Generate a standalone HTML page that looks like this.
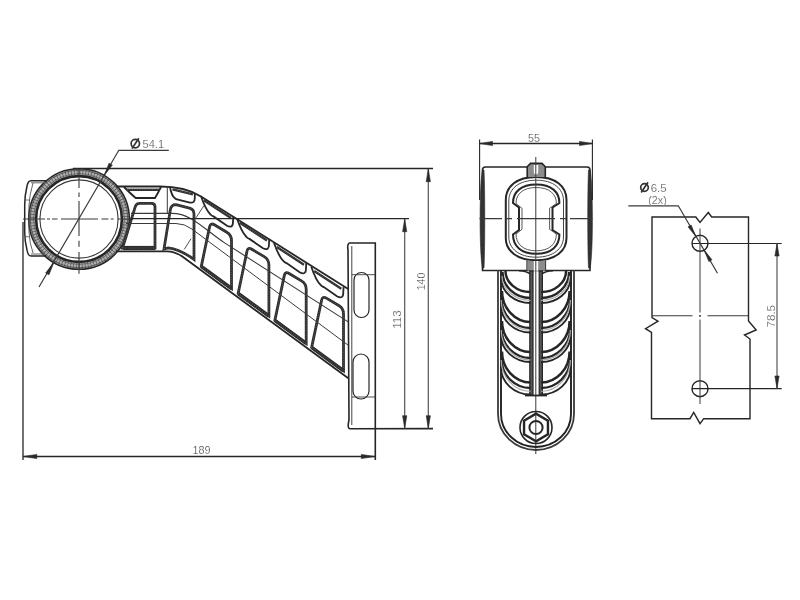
<!DOCTYPE html>
<html><head><meta charset="utf-8"><style>
html,body{margin:0;padding:0;background:#fff;}
svg{display:block;}
text{font-family:"Liberation Sans",sans-serif;}
svg{will-change:transform;}
</style></head><body>
<svg width="800" height="600" viewBox="0 0 800 600">
<rect width="800" height="600" fill="#fff"/>
<circle cx="79" cy="219" r="46.7" stroke="#b0b0b0" stroke-width="6.0" fill="none" />
<circle cx="79" cy="219" r="46.7" stroke="#555" stroke-width="6.0" fill="none" stroke-dasharray="0.7 2.2"/>
<circle cx="79" cy="219" r="45.4" stroke="#555" stroke-width="0.7" fill="none" />
<circle cx="79" cy="219" r="48.8" stroke="#444" stroke-width="0.8" fill="none" />
<circle cx="79" cy="219" r="50.3" stroke="#262626" stroke-width="1.6" fill="none" />
<circle cx="79" cy="219" r="42.9" stroke="#262626" stroke-width="2.6" fill="none" />
<circle cx="79" cy="219" r="39.1" stroke="#3a3a3a" stroke-width="1.1" fill="none" />
<path d="M47,180.8 L31,180.8 Q28,181 27,186 Q24.7,196 24.7,205 L24.7,232 Q24.7,241 27,250 Q28,256 31,256 L46,256" stroke="#262626" stroke-width="1.5" fill="none" />
<path d="M31,182.8 L46,182.8 M31,254 L45,254" stroke="#666" stroke-width="1.0" fill="none" />
<path d="M33,183 Q29.5,195 29,205 L29,232 Q29.5,243 33,253" stroke="#555" stroke-width="0.9" fill="none" />
<line x1="24.7" y1="200" x2="30" y2="200" stroke="#555" stroke-width="0.8" />
<line x1="24.7" y1="236.7" x2="30" y2="236.7" stroke="#555" stroke-width="0.8" />
<path d="M23,219 L45,219 M47,219 L50,219 M52,219 L57.5,219 M61,219 L98,219 M101.5,219 L108.5,219 M110.7,219 L113.7,219 M117.5,219 L131,219" stroke="#3a3a3a" stroke-width="1.1" fill="none" />
<path d="M79,168 L79,188 M79,192.5 L79,197 M79,201 L79,236 M79,240.8 L79,246.7 M79,252 L79,273.8" stroke="#3a3a3a" stroke-width="1.1" fill="none" />
<path d="M168.8,150.3 L118.8,150.3 L39,287" stroke="#3a3a3a" stroke-width="1.2" fill="none" />
<path d="M104.00,175.70 L109.05,163.15 L112.35,165.05 Z" fill="#2a2a2a" stroke="#2a2a2a" stroke-width="0.6"/>
<path d="M54.00,262.30 L48.95,274.85 L45.65,272.95 Z" fill="#2a2a2a" stroke="#2a2a2a" stroke-width="0.6"/>
<circle cx="135.3" cy="143.6" r="4.2" stroke="#333" stroke-width="1.7" fill="none" />
<line x1="132.0" y1="148.6" x2="138.8" y2="138.29999999999998" stroke="#333" stroke-width="1.7" />
<text x="153.3" y="147.6" font-size="11.2" text-anchor="middle" fill="#484848" stroke="#fff" stroke-width="0.2" textLength="21.5" lengthAdjust="spacingAndGlyphs" >54.1</text>
<path d="M116,186.5 L160,186.5 Q185.1,186.5 201,196.5 L348.2,289" stroke="#262626" stroke-width="1.8" fill="none" />
<path d="M116,251.3 L167,251.3 Q175.3,251.3 183,257 L348.3,378.3" stroke="#262626" stroke-width="1.8" fill="none" />
<path d="M124,187 Q131,194 135.7,198 L155,198 Q158,193 161,187" stroke="#262626" stroke-width="1.8" fill="none" />
<path d="M127,189.8 L159,189.8" stroke="#2e2e2e" stroke-width="2.4" fill="none" />
<path d="M127,189.8 L159,189.8" stroke="#8a8a8a" stroke-width="0.6" fill="none" stroke-dasharray="0.8 1.7"/>
<line x1="167.3" y1="186.5" x2="167.3" y2="213" stroke="#3a3a3a" stroke-width="1.0" />
<path d="M170,187 Q171.5,195.5 174.5,197.8 Q176,199.3 178,199.7 L190,202.6 Q194.8,203.4 194.8,198 L194.8,193" stroke="#262626" stroke-width="1.8" fill="none" />
<path d="M172.5,189.3 L193,194.3" stroke="#2e2e2e" stroke-width="2.4" fill="none" />
<path d="M172.5,189.3 L193,194.3" stroke="#8a8a8a" stroke-width="0.6" fill="none" stroke-dasharray="0.8 1.7"/>
<path d="M201,196 C203,202 206,210 210.5,214.5 Q211.5,215.6 213.5,216.4 L227,225.8 Q233.3,229 233,221 L233.3,216.4" stroke="#262626" stroke-width="1.8" fill="none" />
<path d="M203.8,200.3 L231,218" stroke="#2e2e2e" stroke-width="2.4" fill="none" />
<path d="M203.8,200.3 L231,218" stroke="#8a8a8a" stroke-width="0.6" fill="none" stroke-dasharray="0.8 1.7"/>
<path d="M237,218.5 C239,224.5 242,232.5 246.5,237.0 Q247.5,238.1 249.5,238.9 L263,248.3 Q269.3,251.5 269,243.5 L269.3,238.9" stroke="#262626" stroke-width="1.8" fill="none" />
<path d="M239.8,222.8 L267,240.5" stroke="#2e2e2e" stroke-width="2.4" fill="none" />
<path d="M239.8,222.8 L267,240.5" stroke="#8a8a8a" stroke-width="0.6" fill="none" stroke-dasharray="0.8 1.7"/>
<path d="M274,242.7 C276,248.7 279,256.7 283.5,261.2 Q284.5,262.3 286.5,263.09999999999997 L300,272.5 Q306.3,275.7 306,267.7 L306.3,263.09999999999997" stroke="#262626" stroke-width="1.8" fill="none" />
<path d="M276.8,247.0 L304,264.7" stroke="#2e2e2e" stroke-width="2.4" fill="none" />
<path d="M276.8,247.0 L304,264.7" stroke="#8a8a8a" stroke-width="0.6" fill="none" stroke-dasharray="0.8 1.7"/>
<path d="M311.3,266.7 C313.3,272.7 316.3,280.7 320.8,285.2 Q321.8,286.3 323.8,287.09999999999997 L337.3,296.5 Q343.6,299.7 343.3,291.7 L343.6,287.09999999999997" stroke="#262626" stroke-width="1.8" fill="none" />
<path d="M314.1,271.0 L341.3,288.7" stroke="#2e2e2e" stroke-width="2.4" fill="none" />
<path d="M314.1,271.0 L341.3,288.7" stroke="#8a8a8a" stroke-width="0.6" fill="none" stroke-dasharray="0.8 1.7"/>
<path d="M122.50,248.00 L135.27,206.64 Q136.30,203.30 139.80,203.30 L151.50,203.30 Q155.00,203.30 155.00,206.80 L155.00,248.00 Z" stroke="#2e2e2e" stroke-width="2.8" fill="none" />
<path d="M122.50,248.00 L135.27,206.64 Q136.30,203.30 139.80,203.30 L151.50,203.30 Q155.00,203.30 155.00,206.80 L155.00,248.00 Z" stroke="#8a8a8a" stroke-width="0.6" fill="none" stroke-dasharray="0.8 1.7"/>
<path d="M123,248 L155,248" stroke="#2e2e2e" stroke-width="4.2" fill="none" />
<path d="M123,248 L155,248" stroke="#8a8a8a" stroke-width="0.6" fill="none" stroke-dasharray="0.8 1.7"/>
<path d="M164,249 L170.4,209.4 Q171.5,204.5 176,204.7 L189.5,208.2 Q194,209.5 194,214 L194,259.5 Q180,249 168,247.8 Z" stroke="#2e2e2e" stroke-width="2.8" fill="none" />
<path d="M164,249 L170.4,209.4 Q171.5,204.5 176,204.7 L189.5,208.2 Q194,209.5 194,214 L194,259.5 Q180,249 168,247.8 Z" stroke="#8a8a8a" stroke-width="0.6" fill="none" stroke-dasharray="0.8 1.7"/>
<path d="M201.28,266.39 L209.58,226.90 Q210.50,222.50 214.37,224.80 L226.77,232.19 Q231.50,235.00 231.50,240.50 L231.50,288.57 Z" stroke="#2e2e2e" stroke-width="2.8" fill="none" />
<path d="M201.28,266.39 L209.58,226.90 Q210.50,222.50 214.37,224.80 L226.77,232.19 Q231.50,235.00 231.50,240.50 L231.50,288.57 Z" stroke="#8a8a8a" stroke-width="0.6" fill="none" stroke-dasharray="0.8 1.7"/>
<path d="M201.28,266.39 L231.50,288.57" stroke="#2e2e2e" stroke-width="3.6" fill="none" />
<path d="M201.28,266.39 L231.50,288.57" stroke="#8a8a8a" stroke-width="0.6" fill="none" stroke-dasharray="0.8 1.7"/>
<path d="M238.13,293.43 L246.98,251.30 Q247.90,246.90 251.77,249.20 L264.17,256.59 Q268.90,259.40 268.90,264.90 L268.90,316.02 Z" stroke="#2e2e2e" stroke-width="2.8" fill="none" />
<path d="M238.13,293.43 L246.98,251.30 Q247.90,246.90 251.77,249.20 L264.17,256.59 Q268.90,259.40 268.90,264.90 L268.90,316.02 Z" stroke="#8a8a8a" stroke-width="0.6" fill="none" stroke-dasharray="0.8 1.7"/>
<path d="M238.13,293.43 L268.90,316.02" stroke="#2e2e2e" stroke-width="3.6" fill="none" />
<path d="M238.13,293.43 L268.90,316.02" stroke="#8a8a8a" stroke-width="0.6" fill="none" stroke-dasharray="0.8 1.7"/>
<path d="M274.87,320.40 L284.28,275.60 Q285.20,271.20 289.07,273.50 L301.47,280.89 Q306.20,283.70 306.20,289.20 L306.20,343.40 Z" stroke="#2e2e2e" stroke-width="2.8" fill="none" />
<path d="M274.87,320.40 L284.28,275.60 Q285.20,271.20 289.07,273.50 L301.47,280.89 Q306.20,283.70 306.20,289.20 L306.20,343.40 Z" stroke="#8a8a8a" stroke-width="0.6" fill="none" stroke-dasharray="0.8 1.7"/>
<path d="M274.87,320.40 L306.20,343.40" stroke="#2e2e2e" stroke-width="3.6" fill="none" />
<path d="M274.87,320.40 L306.20,343.40" stroke="#8a8a8a" stroke-width="0.6" fill="none" stroke-dasharray="0.8 1.7"/>
<path d="M311.66,347.41 L321.58,300.20 Q322.50,295.80 326.37,298.10 L338.77,305.49 Q343.50,308.30 343.50,313.80 L343.50,370.78 Z" stroke="#2e2e2e" stroke-width="2.8" fill="none" />
<path d="M311.66,347.41 L321.58,300.20 Q322.50,295.80 326.37,298.10 L338.77,305.49 Q343.50,308.30 343.50,313.80 L343.50,370.78 Z" stroke="#8a8a8a" stroke-width="0.6" fill="none" stroke-dasharray="0.8 1.7"/>
<path d="M311.66,347.41 L343.50,370.78" stroke="#2e2e2e" stroke-width="3.6" fill="none" />
<path d="M311.66,347.41 L343.50,370.78" stroke="#8a8a8a" stroke-width="0.6" fill="none" stroke-dasharray="0.8 1.7"/>
<path d="M131,213.4 L172,213.4 C192,213.4 205,230.3 225,243.1 L348.2,321.9" stroke="#3a3a3a" stroke-width="1.1" fill="none" />
<path d="M126,223.5 L176,223.5 Q184.5,223.5 192,229.1 L348.2,345.2" stroke="#3a3a3a" stroke-width="1.0" fill="none" />
<line x1="184.3" y1="249.3" x2="191" y2="238.7" stroke="#3a3a3a" stroke-width="0.9" />
<line x1="196" y1="217.8" x2="204" y2="205.5" stroke="#3a3a3a" stroke-width="0.9" />
<path d="M349,243 L375.3,243 L375.3,460" stroke="#262626" stroke-width="1.6" fill="none" />
<path d="M349,243 Q347,245 348,250 L349,420 Q347,428.7 350,428.7 L433,428.6" stroke="#262626" stroke-width="1.6" fill="none" />
<line x1="351.8" y1="246" x2="351.8" y2="425" stroke="#444" stroke-width="1.0" />
<path d="M354,280 A7.5,7.5 0 0 1 369,280 L369,310 A7.5,7.5 0 0 1 354,310 Z" stroke="#262626" stroke-width="1.2" fill="none" />
<path d="M353,362 A8,8 0 0 1 369,362 L369,391 A8,8 0 0 1 353,391 Z" stroke="#262626" stroke-width="1.2" fill="none" />
<line x1="352" y1="274.7" x2="375.3" y2="274.7" stroke="#3a3a3a" stroke-width="0.9" />
<line x1="352" y1="397" x2="375.3" y2="397" stroke="#3a3a3a" stroke-width="0.9" />
<line x1="73" y1="168.5" x2="433" y2="168.5" stroke="#262626" stroke-width="1.3" />
<line x1="131" y1="218.6" x2="409" y2="218.6" stroke="#262626" stroke-width="1.3" />
<line x1="428.3" y1="168.7" x2="428.3" y2="428.7" stroke="#555" stroke-width="1.2" />
<path d="M428.30,168.90 L430.40,181.70 L426.20,181.70 Z" fill="#2a2a2a" stroke="#2a2a2a" stroke-width="0.6"/>
<path d="M428.30,428.50 L426.20,415.70 L430.40,415.70 Z" fill="#2a2a2a" stroke="#2a2a2a" stroke-width="0.6"/>
<line x1="404.7" y1="218.7" x2="404.7" y2="428.7" stroke="#555" stroke-width="1.2" />
<path d="M404.70,218.90 L406.80,231.70 L402.60,231.70 Z" fill="#2a2a2a" stroke="#2a2a2a" stroke-width="0.6"/>
<path d="M404.70,428.50 L402.60,415.70 L406.80,415.70 Z" fill="#2a2a2a" stroke="#2a2a2a" stroke-width="0.6"/>
<text x="424.6" y="281.5" font-size="11" text-anchor="middle" fill="#484848" stroke="#fff" stroke-width="0.2" transform="rotate(-90 424.6 281.5)" textLength="17.7" lengthAdjust="spacingAndGlyphs" >140</text>
<text x="401.3" y="319.5" font-size="11" text-anchor="middle" fill="#484848" stroke="#fff" stroke-width="0.2" transform="rotate(-90 401.3 319.5)" textLength="18.3" lengthAdjust="spacingAndGlyphs" >113</text>
<line x1="23" y1="222" x2="23" y2="460" stroke="#262626" stroke-width="1.3" />
<line x1="23" y1="456.5" x2="375" y2="456.5" stroke="#262626" stroke-width="1.3" />
<path d="M23.30,456.50 L36.80,454.40 L36.80,458.60 Z" fill="#2a2a2a" stroke="#2a2a2a" stroke-width="0.6"/>
<path d="M374.80,456.50 L361.30,458.60 L361.30,454.40 Z" fill="#2a2a2a" stroke="#2a2a2a" stroke-width="0.6"/>
<text x="201.5" y="454" font-size="11.2" text-anchor="middle" fill="#484848" stroke="#fff" stroke-width="0.2" textLength="18" lengthAdjust="spacingAndGlyphs" >189</text>
<line x1="479.6" y1="139.5" x2="479.6" y2="200" stroke="#262626" stroke-width="1.1" />
<line x1="592.4" y1="139.5" x2="592.4" y2="200" stroke="#262626" stroke-width="1.1" />
<line x1="479.7" y1="143.5" x2="592.5" y2="143.5" stroke="#262626" stroke-width="1.3" />
<path d="M479.90,143.50 L492.50,141.40 L492.50,145.60 Z" fill="#2a2a2a" stroke="#2a2a2a" stroke-width="0.6"/>
<path d="M592.30,143.50 L579.50,145.60 L579.50,141.40 Z" fill="#2a2a2a" stroke="#2a2a2a" stroke-width="0.6"/>
<text x="534" y="141.5" font-size="11.2" text-anchor="middle" fill="#484848" stroke="#fff" stroke-width="0.2" textLength="12" lengthAdjust="spacingAndGlyphs" >55</text>
<path d="M482.5,270.5 L482.5,170 Q482.5,167 485.5,167 L587,167 Q590,167 590,170 L590,270.5 Z" stroke="#262626" stroke-width="1.6" fill="none" />
<path d="M482.5,170 C479.3,182 479.3,256 482.5,268 L484,268 C485,250 485,188 484,170 Z" stroke="#262626" stroke-width="0.6" fill="#333" />
<path d="M590,170 C593.2,182 593.2,256 590,268 L588.5,268 C587.5,250 587.5,188 588.5,170 Z" stroke="#262626" stroke-width="0.6" fill="#333" />
<path d="M505.8,200 C505.8,186 517,177 536.2,177 C555.4,177 566.5,186 566.5,200 L566.5,238 C566.5,251 555.4,260.3 536.2,260.3 C517,260.3 505.8,251 505.8,238 Z" stroke="#262626" stroke-width="2.0" fill="none" />
<path d="M508.8,201 C508.8,188.5 519,180.2 536.2,180.2 C553.4,180.2 563.5,188.5 563.5,201 L563.5,237 C563.5,248.5 553.4,257.2 536.2,257.2 C519,257.2 508.8,248.5 508.8,237 Z" stroke="#444" stroke-width="1.0" fill="none" />
<path d="M513,203 C513,192 521,184.5 536.2,184.5 C551.4,184.5 559.4,192 559.4,203 L552.5,207.5 L552.5,230 L559.4,234.5 C559.4,246 551.4,253.8 536.2,253.8 C521,253.8 513,246 513,234.5 L519,230 L519,207.5 Z" stroke="#262626" stroke-width="2.0" fill="none" />
<path d="M516,203.5 C516,194 523,187.5 536.2,187.5 C549.4,187.5 556.4,194 556.4,203.5 L549.6,208.3 L549.6,229.3 L556.4,234 C556.4,244 549.4,250.8 536.2,250.8 C523,250.8 516,244 516,234 L522,229.3 L522,208.3 Z" stroke="#444" stroke-width="0.9" fill="none" />
<path d="M527.2,177 L527.2,166.8 L530.5,163.4 L542,163.4 L545.3,166.8 L545.3,177" stroke="#262626" stroke-width="1.6" fill="#8c8c8c" />
<path d="M533.8,165 L533.8,172 Q533.8,174.5 536,174.5 Q538.2,174.5 538.2,172 L538.2,165 Z" stroke="#262626" stroke-width="0" fill="#fff" />
<path d="M527.2,260.5 L527.2,270.7 M545.3,260.5 L545.3,270.7" stroke="#262626" stroke-width="1.6" fill="none" />
<rect x="527.2" y="261" width="18.1" height="9.7" fill="#8c8c8c"/>
<rect x="533.8" y="261" width="4.4" height="9.7" fill="#fff"/>
<path d="M519,270.7 Q527,271 531,274.5 M553,270.7 Q545,271 541,274.5" stroke="#262626" stroke-width="1.4" fill="none" />
<line x1="535.8" y1="157" x2="535.8" y2="454" stroke="#3a3a3a" stroke-width="1.0" />
<path d="M479.5,218.6 L502,218.6 M506,218.6 L512,218.6 M517,218.6 L555,218.6 M560,218.6 L566,218.6 M570,218.6 L592.5,218.6" stroke="#3a3a3a" stroke-width="1.1" fill="none" />
<path d="M498,270 L498,414 A38,36 0 0 0 574,414 L574,270" stroke="#3a3a3a" stroke-width="1.8" fill="none" />
<path d="M501,271 L501,414 A35,33 0 0 0 571,414 L571,271" stroke="#222" stroke-width="1.9" fill="none" />
<rect x="529.8" y="271" width="3.2" height="124" fill="#555" stroke="#262626" stroke-width="1.2"/>
<rect x="539.2" y="271" width="3.2" height="124" fill="#555" stroke="#262626" stroke-width="1.2"/>
<line x1="525" y1="395.5" x2="547" y2="395.5" stroke="#262626" stroke-width="1.8" />
<path d="M566.0999999999999,271 A25.0,21 0 0 1 541.0999999999999,292" stroke="#262626" stroke-width="2.5" fill="none" />
<path d="M569.0999999999999,272 A28.0,26 0 0 1 541.0999999999999,298" stroke="#262626" stroke-width="2.4" fill="none" />
<path d="M570.0999999999999,279 A29.0,24 0 0 1 541.0999999999999,303" stroke="#262626" stroke-width="1.9" fill="none" />
<path d="M569.5999999999999,276 A28.5,24.5 0 0 1 541.0999999999999,300.5" stroke="#aaa" stroke-width="1.2" fill="none" />
<path d="M505.5,271 A25.0,21 0 0 0 530.5,292" stroke="#262626" stroke-width="2.5" fill="none" />
<path d="M502.5,272 A28.0,26 0 0 0 530.5,298" stroke="#262626" stroke-width="2.4" fill="none" />
<path d="M501.5,279 A29.0,24 0 0 0 530.5,303" stroke="#262626" stroke-width="1.9" fill="none" />
<path d="M502.0,276 A28.5,24.5 0 0 0 530.5,300.5" stroke="#aaa" stroke-width="1.2" fill="none" />
<path d="M569.5999999999999,291 A28.5,31 0 0 1 541.0999999999999,322" stroke="#262626" stroke-width="2.5" fill="none" />
<path d="M570.0999999999999,299 A29.0,29 0 0 1 541.0999999999999,328" stroke="#262626" stroke-width="2.4" fill="none" />
<path d="M570.5999999999999,305.5 A29.5,27.0 0 0 1 541.0999999999999,332.5" stroke="#262626" stroke-width="1.9" fill="none" />
<path d="M570.3999999999999,300 A29.30000000000001,30.25 0 0 1 541.0999999999999,330.25" stroke="#aaa" stroke-width="1.2" fill="none" />
<path d="M502.0,291 A28.5,31 0 0 0 530.5,322" stroke="#262626" stroke-width="2.5" fill="none" />
<path d="M501.5,299 A29.0,29 0 0 0 530.5,328" stroke="#262626" stroke-width="2.4" fill="none" />
<path d="M501.0,305.5 A29.5,27.0 0 0 0 530.5,332.5" stroke="#262626" stroke-width="1.9" fill="none" />
<path d="M501.2,300 A29.30000000000001,30.25 0 0 0 530.5,330.25" stroke="#aaa" stroke-width="1.2" fill="none" />
<path d="M569.5999999999999,321 A28.5,31 0 0 1 541.0999999999999,352" stroke="#262626" stroke-width="2.5" fill="none" />
<path d="M570.0999999999999,329 A29.0,29 0 0 1 541.0999999999999,358" stroke="#262626" stroke-width="2.4" fill="none" />
<path d="M570.5999999999999,335 A29.5,27 0 0 1 541.0999999999999,362" stroke="#262626" stroke-width="1.9" fill="none" />
<path d="M570.3999999999999,330 A29.30000000000001,30.0 0 0 1 541.0999999999999,360.0" stroke="#aaa" stroke-width="1.2" fill="none" />
<path d="M502.0,321 A28.5,31 0 0 0 530.5,352" stroke="#262626" stroke-width="2.5" fill="none" />
<path d="M501.5,329 A29.0,29 0 0 0 530.5,358" stroke="#262626" stroke-width="2.4" fill="none" />
<path d="M501.0,335 A29.5,27 0 0 0 530.5,362" stroke="#262626" stroke-width="1.9" fill="none" />
<path d="M501.2,330 A29.30000000000001,30.0 0 0 0 530.5,360.0" stroke="#aaa" stroke-width="1.2" fill="none" />
<path d="M569.5999999999999,351.5 A28.5,31.0 0 0 1 541.0999999999999,382.5" stroke="#262626" stroke-width="2.5" fill="none" />
<path d="M570.0999999999999,359 A29.0,29 0 0 1 541.0999999999999,388" stroke="#262626" stroke-width="2.4" fill="none" />
<path d="M570.5999999999999,367.5 A29.5,27.0 0 0 1 541.0999999999999,394.5" stroke="#262626" stroke-width="1.9" fill="none" />
<path d="M570.3999999999999,360 A29.30000000000001,31.25 0 0 1 541.0999999999999,391.25" stroke="#aaa" stroke-width="1.2" fill="none" />
<path d="M502.0,351.5 A28.5,31.0 0 0 0 530.5,382.5" stroke="#262626" stroke-width="2.5" fill="none" />
<path d="M501.5,359 A29.0,29 0 0 0 530.5,388" stroke="#262626" stroke-width="2.4" fill="none" />
<path d="M501.0,367.5 A29.5,27.0 0 0 0 530.5,394.5" stroke="#262626" stroke-width="1.9" fill="none" />
<path d="M501.2,360 A29.30000000000001,31.25 0 0 0 530.5,391.25" stroke="#aaa" stroke-width="1.2" fill="none" />
<circle cx="536" cy="427.5" r="16" stroke="#262626" stroke-width="1.6" fill="none" />
<polygon points="536.00,441.30 524.05,434.40 524.05,420.60 536.00,413.70 547.95,420.60 547.95,434.40" fill="none" stroke="#262626" stroke-width="2.4"/>
<circle cx="536" cy="427.5" r="6.6" stroke="#262626" stroke-width="2.0" fill="none" />
<path d="M652,217 L695.8,217 L700,222.5 L708.3,212.5 L711.7,217 L748.5,217 L748.5,321 L756.2,330 L744.5,335 L750,339 L750,418.7 L703.7,418.7 L700,423.7 L693.7,412.5 L690,418.7 L651.5,418.7 L651.5,332.5 L645.5,328.7 L658,321.2 L652,317.5 Z" stroke="#262626" stroke-width="1.4" fill="none" />
<circle cx="700" cy="243.3" r="8" stroke="#262626" stroke-width="1.4" fill="none" />
<circle cx="700" cy="388.7" r="8" stroke="#262626" stroke-width="1.4" fill="none" />
<path d="M700,228.5 L700,312.5 M700,315 L700,317 M700,319.5 L700,404" stroke="#3a3a3a" stroke-width="1.0" fill="none" />
<path d="M652,315.8 L692.5,315.8 M699,315.8 L701,315.8 M707.5,315.8 L748.5,315.8" stroke="#3a3a3a" stroke-width="1.1" fill="none" />
<line x1="692" y1="243.5" x2="781.7" y2="243.5" stroke="#262626" stroke-width="1.2" />
<line x1="692" y1="388.7" x2="781.7" y2="388.7" stroke="#262626" stroke-width="1.2" />
<line x1="777" y1="243.5" x2="777" y2="388.7" stroke="#555" stroke-width="1.2" />
<path d="M777.00,243.80 L779.10,256.00 L774.90,256.00 Z" fill="#2a2a2a" stroke="#2a2a2a" stroke-width="0.6"/>
<path d="M777.00,388.40 L774.90,376.00 L779.10,376.00 Z" fill="#2a2a2a" stroke="#2a2a2a" stroke-width="0.6"/>
<text x="775" y="316.2" font-size="11.2" text-anchor="middle" fill="#484848" stroke="#fff" stroke-width="0.2" transform="rotate(-90 775 316.2)" textLength="22.5" lengthAdjust="spacingAndGlyphs" >78.5</text>
<path d="M628.3,205.8 L678.3,205.8 L717.5,273.3" stroke="#3a3a3a" stroke-width="1.2" fill="none" />
<path d="M695.60,236.30 L688.04,226.80 L691.16,225.00 Z" fill="#2a2a2a" stroke="#2a2a2a" stroke-width="0.6"/>
<path d="M704.40,250.30 L711.96,259.80 L708.84,261.60 Z" fill="#2a2a2a" stroke="#2a2a2a" stroke-width="0.6"/>
<circle cx="644.5" cy="187.5" r="3.8" stroke="#333" stroke-width="1.7" fill="none" />
<line x1="641.2" y1="192.5" x2="648.0" y2="182.2" stroke="#333" stroke-width="1.7" />
<text x="658.7" y="191.7" font-size="10.5" text-anchor="middle" fill="#484848" stroke="#fff" stroke-width="0.2" textLength="15.9" lengthAdjust="spacingAndGlyphs" >6.5</text>
<text x="657.5" y="204.2" font-size="10" text-anchor="middle" fill="#484848" stroke="#fff" stroke-width="0.2" textLength="18.4" lengthAdjust="spacingAndGlyphs" >(2x)</text>
</svg></body></html>
